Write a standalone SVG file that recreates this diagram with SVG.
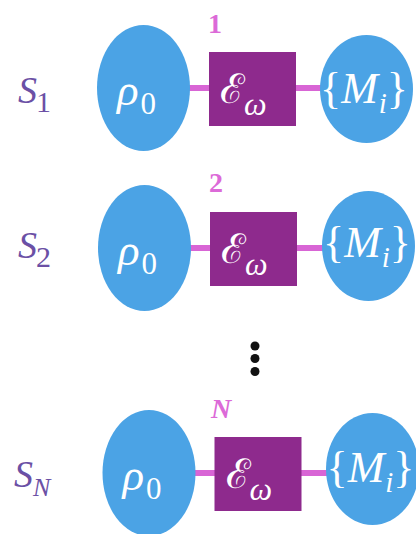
<svg xmlns="http://www.w3.org/2000/svg" width="416" height="534" viewBox="0 0 416 534">
<style>
.st{fill:#4BA3E5}
.ch{fill:#8E2A8D}
.ln{stroke:#D865D5;stroke-width:6;fill:none}
.w{fill:#ffffff;font-family:"Liberation Serif","DejaVu Serif",serif}
.it{font-style:italic}
.eps{fill:#ffffff;font-family:"DejaVu Serif",serif;font-size:41px}
.num{fill:#DC6AD8;font-family:"Liberation Serif","DejaVu Serif",serif;font-weight:bold;font-size:28px}
.s{fill:#6B50A5;font-family:"Liberation Serif","DejaVu Serif",serif}
</style>
<rect width="416" height="534" fill="#ffffff"/>
<g id="connectors">
<line class="ln" x1="188" y1="88" x2="211" y2="88"/>
<line class="ln" x1="294" y1="88" x2="322" y2="88"/>
<line class="ln" x1="189" y1="248" x2="212" y2="248"/>
<line class="ln" x1="295" y1="248" x2="325" y2="248"/>
<line class="ln" x1="194" y1="473" x2="216" y2="473"/>
<line class="ln" x1="300" y1="473" x2="329" y2="473"/>
</g>
<g id="label-s1"><text class="s" x="18" y="103" font-size="38"><tspan class="it">S</tspan><tspan font-size="30" dy="9" dx="-1">1</tspan></text></g>
<g id="label-s2"><text class="s" x="18" y="258" font-size="38"><tspan class="it">S</tspan><tspan font-size="30" dy="9" dx="-1">2</tspan></text></g>
<g id="label-sn"><text class="s" x="14" y="487" font-size="38"><tspan class="it">S</tspan><tspan class="it" font-size="26" dy="9" dx="0">N</tspan></text></g>
<g id="num-1"><text class="num" x="215" y="33" text-anchor="middle">1</text></g>
<g id="num-2"><text class="num" x="216" y="192" text-anchor="middle">2</text></g>
<g id="num-n"><text class="num it" x="221" y="418" text-anchor="middle" font-size="25">N</text></g>
<g id="dots" fill="#111111">
<circle cx="255" cy="346" r="4.5"/>
<circle cx="255" cy="358.5" r="4.5"/>
<circle cx="255" cy="371.5" r="4.5"/>
</g>
<g id="rho-1"><ellipse class="st" cx="143.5" cy="88" rx="46.5" ry="63"/><text class="w" x="117" y="105" font-size="45"><tspan class="it">ρ</tspan><tspan font-size="31" dy="9" dx="2">0</tspan></text></g>
<g id="eps-1"><rect class="ch" x="209" y="52" width="87" height="74"/><text class="eps" x="220" y="103">ℰ<tspan class="w it" font-size="32" dy="12" dx="-1">ω</tspan></text></g>
<g id="m-1"><ellipse class="st" cx="366.5" cy="89" rx="46.5" ry="54"/><text class="w" x="364" y="103" font-size="44" text-anchor="middle">{<tspan class="it">M</tspan><tspan class="it" font-size="29" dy="10" dx="1">i</tspan><tspan dy="-10">}</tspan></text></g>
<g id="rho-2" transform="translate(1,160)"><ellipse class="st" cx="143.5" cy="88" rx="46.5" ry="63"/><text class="w" x="117" y="105" font-size="45"><tspan class="it">ρ</tspan><tspan font-size="31" dy="9" dx="2">0</tspan></text></g>
<g id="eps-2" transform="translate(1,160)"><rect class="ch" x="209" y="52" width="87" height="74"/><text class="eps" x="220" y="103">ℰ<tspan class="w it" font-size="32" dy="12" dx="-1">ω</tspan></text></g>
<g id="m-2" transform="translate(1,160)"><ellipse class="st" cx="367.5" cy="86" rx="46.5" ry="55"/><text class="w" x="366" y="97" font-size="44" text-anchor="middle">{<tspan class="it">M</tspan><tspan class="it" font-size="29" dy="10" dx="1">i</tspan><tspan dy="-10">}</tspan></text></g>
<g id="rho-n" transform="translate(5.5,385)"><ellipse class="st" cx="143.5" cy="88" rx="46.5" ry="63"/><text class="w" x="117" y="105" font-size="45"><tspan class="it">ρ</tspan><tspan font-size="31" dy="9" dx="2">0</tspan></text></g>
<g id="eps-n" transform="translate(5.5,385)"><rect class="ch" x="209" y="52" width="87" height="74"/><text class="eps" x="220" y="103">ℰ<tspan class="w it" font-size="32" dy="12" dx="-1">ω</tspan></text></g>
<g id="m-n" transform="translate(5.5,385)"><ellipse class="st" cx="367" cy="84" rx="46.5" ry="56"/><text class="w" x="365" y="97" font-size="44" text-anchor="middle">{<tspan class="it">M</tspan><tspan class="it" font-size="29" dy="10" dx="1">i</tspan><tspan dy="-10">}</tspan></text></g>
</svg>
